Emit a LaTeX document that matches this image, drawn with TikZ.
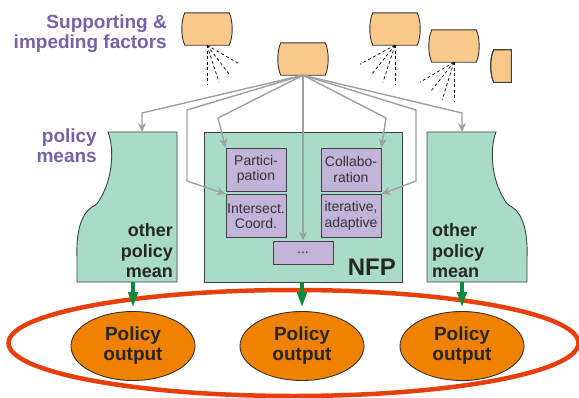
\documentclass[tikz,border=0pt]{standalone}
\usepackage{fontspec}
\setmainfont{Liberation Sans}
\usepackage{xcolor}
\usepackage{tikz}
\usetikzlibrary{arrows.meta,positioning,calc,shapes.geometric}

\definecolor{factor}{HTML}{F9C98C}
\definecolor{mintg}{HTML}{A9DCC6}
\definecolor{lav}{HTML}{C2B3D9}
\definecolor{purp}{HTML}{7563A8}
\definecolor{orng}{HTML}{F08200}
\definecolor{redl}{HTML}{E63F0C}
\definecolor{arrowg}{HTML}{0A8A3A}

% barrel shaped factor box drawn round an empty node
\newcommand{\fbarrel}[1]{\draw[fb] (#1.north west) -- (#1.north east)
  .. controls +(4,8) and +(4,-8) .. (#1.south east) -- (#1.south west)
  .. controls +(-4,-8) and +(-4,8) .. (#1.north west) -- cycle;}

\begin{document}
\begin{tikzpicture}[x=1pt, y=-1pt,
  fn/.style={minimum width=44pt, minimum height=32pt, inner sep=0pt},
  fb/.style={draw=black!80, line width=0.9pt, fill=factor},
  rays/.style={dash pattern=on 3pt off 2.5pt, line width=0.7pt},
  mint/.style={draw=black!75, line width=0.9pt, fill=mintg},
  pb/.style={draw=black!75, fill=lav, line width=0.9pt, minimum width=60pt,
    minimum height=43pt, inner sep=1pt, align=center, text=black!80,
    font=\fontsize{14}{15.5}\selectfont},
  ga/.style={draw=gray!75, line width=1.4pt, line join=round,
    -{Stealth[length=9pt,width=8pt]}},
  garr/.style={draw=arrowg, line width=4pt, shorten >=3pt,
    -{Triangle[length=16pt,width=9pt]}},
  pol/.style={ellipse, draw=black!80, fill=orng, line width=0.9pt,
    minimum width=124pt, minimum height=69pt, inner sep=0pt, align=center,
    font=\bfseries\fontsize{19}{20}\selectfont, text=black!85},
  lbl/.style={text=purp, font=\bfseries\fontsize{19}{20}\selectfont,
    inner sep=0pt, align=right},
  big/.style={font=\bfseries\fontsize{18}{20.5}\selectfont, inner sep=0pt,
    text=black!85}]
\useasboundingbox (0,0) rectangle (579,397);

\node[lbl, anchor=east] (sup) at (167,33.5) {Supporting \&\\impeding factors};
\node[lbl, anchor=east] (pm) at (97,145.5) {policy\\means};

% factors
\node[fn] (f1) at (207,29) {};
\node[fn] (f2) at (303,59) {};
\node[fn] (f3) at (395,29) {};
\node[fn] (f4) at (454,46) {};
\node[fn, minimum width=17pt] (f5) at (502.5,66) {};
\foreach \f in {f1,f2,f3,f4} \fbarrel{\f}
\draw[fb] (f5.north west) -- (f5.north east) -- (f5.south east) -- (f5.south west)
  .. controls +(-4,-8) and +(-4,8) .. (f5.north west) -- cycle;
\foreach \dx/\dy in {0/39,12/37,23/30,33/19} \draw[rays] (f1.south) -- ++(\dx,\dy);
\foreach \dx/\dy in {0/39,-12/37,-24/30,-35/19} \draw[rays] (f3.south) -- ++(\dx,\dy);
\foreach \dx/\dy in {0/40,-12/38,-24/30,-34/20} \draw[rays] (f4.south) -- ++(\dx,\dy);

% policy means
\node[minimum width=100pt, minimum height=150pt, inner sep=0pt] (mL) at (127,207) {};
\node[minimum width=100pt, minimum height=150pt, inner sep=0pt] (mR) at (477,207) {};
\draw[mint] (108,132) -- (177,132) -- (177,282) -- (77,282) -- (77,258)
  .. controls (76,232) and (81,214) .. (92,207)
  .. controls (96,205) and (98,203) .. (100,199)
  .. controls (112,180) and (115,150) .. (108,132) -- cycle;
\draw[mint] (496,132) -- (427,132) -- (427,282) -- (527,282) -- (527,258)
  .. controls (528,232) and (523,214) .. (512,207)
  .. controls (508,205) and (506,203) .. (504,199)
  .. controls (492,180) and (489,150) .. (496,132) -- cycle;
\coordinate (mLtop) at (142,132);
\coordinate (mRtop) at (462,132);
\node[big, align=right, anchor=south east] (tL) at (173,278) {other\\policy\\mean};
\node[big, align=left, anchor=south west] (tR) at (432,278) {other\\policy\\mean};

\node[mint, minimum width=198pt, minimum height=150pt] (nfp) at (303,207) {};
\node[font=\bfseries\fontsize{24}{24}\selectfont, anchor=base east, inner sep=0pt,
  text=black!85] (nfpl) at (396,275) {NFP};
\node[pb] (part) at (256,169.5) {Partici-\\pation};
\node[pb] (inter) at (256,216) {Intersect.\\Coord.};
\node[pb] (coll) at (351,169.5) {Collabo-\\ration};
\node[pb] (iter) at (351,216) {iterative,\\adaptive};
\node[pb, minimum height=23pt] (dots) at (303,252.5) {...};

\draw[ga] (f2.south) -- (142,113) -- (mLtop);
\draw[ga] (f2.south) -- (187,110) -- (187,181) -- (inter.north west);
\draw[ga] (f2.south) -- (218,118) -- (part.north west);
\draw[ga] (f2.south) -- (dots.north);
\draw[ga] (f2.south) -- (386,118) -- (coll.north east);
\draw[ga] (f2.south) -- (416,110) -- (416,181) -- (iter.north east);
\draw[ga] (f2.south) -- (462,113) -- (mRtop);

% outputs
\draw[redl, line width=4.5pt] (293.5,343) ellipse [x radius=285, y radius=53];
\node[pol] (o1) at (133,346) {Policy\\output};
\node[pol] (o2) at (302,346) {Policy\\output};
\node[pol] (o3) at (462,346) {Policy\\output};
\draw[garr] (o1 |- mL.south) -- (o1.north);
\draw[garr] (o2 |- nfp.south) -- (o2.north);
\draw[garr] (o3 |- mR.south) -- (o3.north);
\end{tikzpicture}
\end{document}
